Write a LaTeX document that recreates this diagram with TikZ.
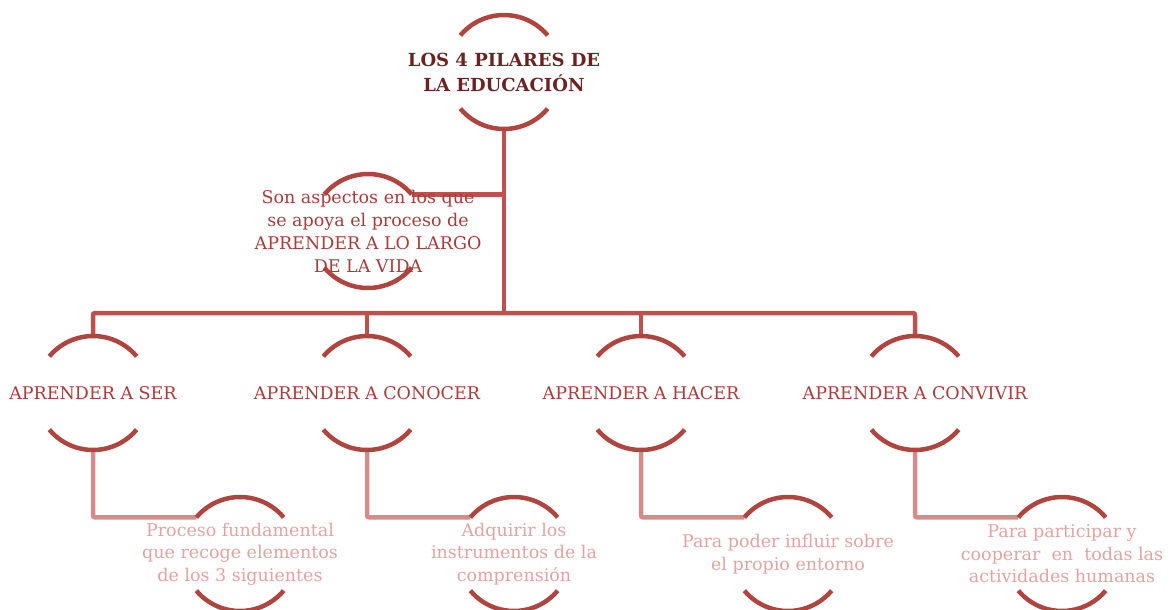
\documentclass[tikz,border=0pt]{standalone}
\usepackage{fontspec}
\setmainfont{DejaVu Serif}
\usetikzlibrary{backgrounds}

\definecolor{arcred}{HTML}{B0443F}
\definecolor{linkred}{HTML}{C0504D}
\definecolor{sublinkred}{HTML}{D48C8A}
\definecolor{titlered}{HTML}{6B2321}
\definecolor{pillarred}{HTML}{A63D39}
\definecolor{descpink}{HTML}{E2A3A1}

\begin{document}
\begin{tikzpicture}[x=1pt,y=1pt,node distance=274pt,
  ring/.style={circle,minimum size=114pt,inner sep=0pt,outer sep=0pt},
  title text/.style={font=\fontsize{18}{25}\selectfont\bfseries,
    text=titlered,align=center},
  pillar text/.style={font=\fontsize{17.5}{23}\selectfont,
    text=pillarred,align=center},
  desc text/.style={font=\fontsize{17.5}{22.5}\selectfont,
    text=descpink,align=center},
  arc line/.style={draw=arcred,line width=4.5pt},
  link/.style={draw=linkred,line width=4.5pt,rounded corners=2pt},
  sublink/.style={draw=sublinkred,line width=4.5pt,rounded corners=2pt}]

  \useasboundingbox (0,0) rectangle (1175,-610);

  \node[ring,label={[title text]center:{LOS 4 PILARES DE\\LA EDUCACIÓN}}]
    (TITLE) at (504,-72) {};
  \node[ring,label={[pillar text]center:{Son aspectos en los que\\se apoya el proceso de\\APRENDER A LO LARGO\\DE LA VIDA}}]
    (ASPECTOS) at (368,-231) {};
  \coordinate (BAR) at (504,-313);

  \node[ring,label={[pillar text]center:APRENDER A SER}] (SER) at (93,-393) {};
  \node[ring,label={[pillar text]center:APRENDER A CONOCER}] (CONOCER) [right of=SER] {};
  \node[ring,label={[pillar text]center:APRENDER A HACER}] (HACER) [right of=CONOCER] {};
  \node[ring,label={[pillar text]center:APRENDER A CONVIVIR}] (CONVIVIR) [right of=HACER] {};

  \node[ring,label={[desc text]center:{Proceso fundamental\\que recoge elementos\\de los 3 siguientes}}]
    (PROC) at (240,-554) {};
  \node[ring,label={[desc text]center:{Adquirir los\\instrumentos de la\\comprensión}}]
    (INSTR) [right of=PROC] {};
  \node[ring,label={[desc text]center:{Para poder influir sobre\\el propio entorno}}]
    (ENTORNO) [right of=INSTR] {};
  \node[ring,label={[desc text]center:{Para participar y\\cooperar ~en ~todas las\\actividades humanas}}]
    (COOPERAR) [right of=ENTORNO] {};

  \begin{scope}[on background layer]
    % tree connectors
    \draw[link] (TITLE.south) -- (BAR);
    \draw[link] (ASPECTOS.40) -- (ASPECTOS.40 -| TITLE.south);
    \draw[link] (SER.north) |- (BAR) -| (CONVIVIR.north);
    \draw[link] (CONOCER.north) -- (CONOCER.north |- BAR);
    \draw[link] (HACER.north) -- (HACER.north |- BAR);
    \draw[sublink] (SER.south) |- (PROC.140);
    \draw[sublink] (CONOCER.south) |- (INSTR.140);
    \draw[sublink] (HACER.south) |- (ENTORNO.140);
    \draw[sublink] (CONVIVIR.south) |- (COOPERAR.140);
    % open rings
    \foreach \n in {TITLE,ASPECTOS,SER,CONOCER,HACER,CONVIVIR,PROC,INSTR,ENTORNO,COOPERAR}{
      \draw[arc line] (\n.40) arc[start angle=40,end angle=140,radius=57pt];
      \draw[arc line] (\n.220) arc[start angle=220,end angle=320,radius=57pt];
    }
  \end{scope}
\end{tikzpicture}
\end{document}
